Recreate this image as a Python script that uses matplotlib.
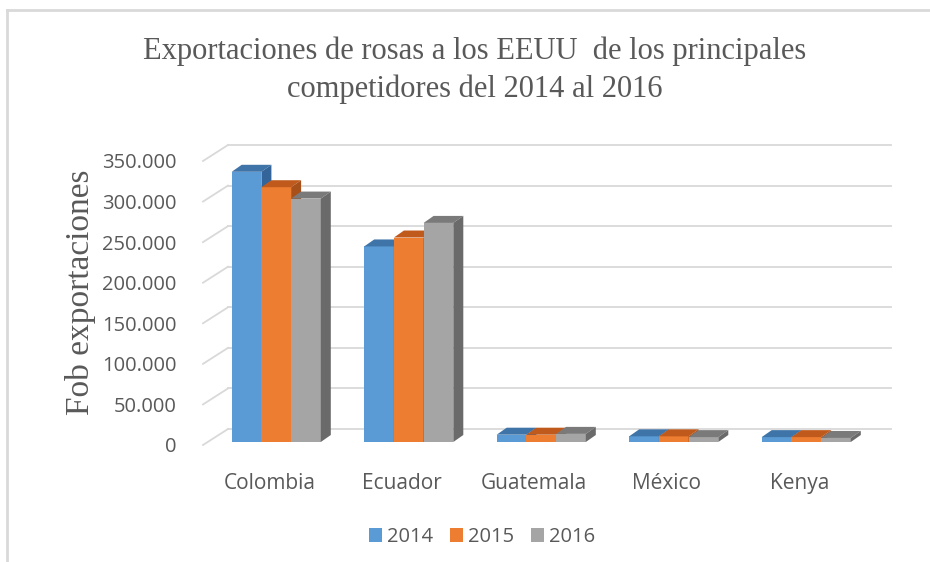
import matplotlib
matplotlib.use("Agg")
import matplotlib.pyplot as plt
from matplotlib.patches import Polygon, Patch
from matplotlib.lines import Line2D
from matplotlib.ticker import FuncFormatter
import numpy as np

# ---------------- data ----------------
categories = ["Colombia", "Ecuador", "Guatemala", "México", "Kenya"]
years = ["2014", "2015", "2016"]
v2014 = [333000, 241000, 9000, 7000, 6000]
v2015 = [314000, 252000, 9000, 7000, 6000]
v2016 = [300000, 270000, 10000, 6000, 5000]
series = [v2014, v2015, v2016]
yticks = [0, 50000, 100000, 150000, 200000, 250000, 300000, 350000]

title = "Exportaciones de rosas a los EEUU  de los principales\ncompetidores del 2014 al 2016"
ylabel = "Fob exportaciones"

# ---------------- style ----------------
front_cols = ["#5b9bd5", "#ed7d31", "#a5a5a5"]
top_cols = ["#3f74a8", "#c05a1c", "#7a7a7a"]
side_cols = ["#34659a", "#a8501a", "#6a6a6a"]
grid_col = "#d9d9d9"
text_col = "#595959"

W, H = 930, 562
fig = plt.figure(figsize=(W / 100, H / 100), dpi=100)
fig.patch.set_facecolor("white")

# front plane of the 3D box in pixels
x0, x1 = 203, 865.5
yb, yt = 445, 161
ax = fig.add_axes([x0 / W, (H - yb) / H, (x1 - x0) / W, (yb - yt) / H])
ax.set_xlim(-0.5, len(categories) - 0.5)
ax.set_ylim(0, 350000)
for s in ax.spines.values():
    s.set_visible(False)
ax.patch.set_alpha(0)

WALL = (25, 16)     # pixel depth of the chart box
BAR_OFF = (7, 3)    # bar front offset from front plane
BAR_D = (10, 7)     # bar depth

inv = ax.transData.inverted()


def proj(x, y, off):
    px, py = ax.transData.transform((x, y))
    return inv.transform((px + off[0], py + off[1]))


# walls gridlines
for v in yticks:
    a = proj(-0.5, v, (0, 0))
    b = proj(-0.5, v, WALL)
    c = proj(len(categories) - 0.5, v, WALL)
    ax.add_line(Line2D([a[0], b[0]], [a[1], b[1]], color=grid_col, lw=1.3,
                       clip_on=False, zorder=1))
    ax.add_line(Line2D([b[0], c[0]], [b[1], c[1]], color=grid_col, lw=1.3,
                       clip_on=False, zorder=1))

# bars
bw_px = 29.7
bw = bw_px / ((x1 - x0) / len(categories))
for i, cat in enumerate(categories):
    for k, vals in enumerate(series):
        v = vals[i]
        left = i + (k - 1.5) * bw
        right = left + bw
        fbl = proj(left, 0, BAR_OFF)
        fbr = proj(right, 0, BAR_OFF)
        ftl = proj(left, v, BAR_OFF)
        ftr = proj(right, v, BAR_OFF)
        d = (BAR_OFF[0] + BAR_D[0], BAR_OFF[1] + BAR_D[1])
        btl = proj(left, v, d)
        btr = proj(right, v, d)
        bbr = proj(right, 0, d)
        z = 3 + i * 3 + k
        ax.add_patch(Polygon([fbl, fbr, ftr, ftl], closed=True, fc=front_cols[k],
                             ec="none", zorder=z, clip_on=False))
        ax.add_patch(Polygon([ftl, ftr, btr, btl], closed=True, fc=top_cols[k],
                             ec="none", zorder=z, clip_on=False))
        ax.add_patch(Polygon([fbr, ftr, btr, bbr], closed=True, fc=side_cols[k],
                             ec="none", zorder=z, clip_on=False))

# ticks
ax.set_yticks(yticks)
ax.yaxis.set_major_formatter(FuncFormatter(lambda v, p: f"{int(v):,}".replace(",", ".")))
ax.set_xticks(range(len(categories)))
ax.set_xticklabels(categories)
ax.tick_params(axis="both", length=0, colors=text_col)
ax.tick_params(axis="y", pad=19)
ax.tick_params(axis="x", pad=20)
for lab in ax.get_yticklabels():
    lab.set_fontfamily("Open Sans")
    lab.set_fontsize(14.5)
    lab.set_color(text_col)
for lab in ax.get_xticklabels():
    lab.set_fontfamily("Open Sans")
    lab.set_fontsize(15)
    lab.set_color(text_col)

# title and axis label
fig.text(475 / W, 1 - 70 / H, title, ha="center", va="center", fontsize=22,
         family="Liberation Serif", color=text_col, linespacing=1.38)
fig.text(81 / W, 1 - 292 / H, ylabel, ha="center", va="center", rotation=90,
         fontsize=24, family="Liberation Serif", color=text_col)

# legend
handles = [Patch(fc=c, ec="none") for c in front_cols]
leg = fig.legend(handles, years, loc="center", bbox_to_anchor=(482 / W, 1 - 537 / H),
                 ncol=3, frameon=False, handlelength=0.65, handleheight=0.65,
                 handletextpad=0.25, columnspacing=0.85,
                 prop={"family": "Open Sans", "size": 14.5})
for t in leg.get_texts():
    t.set_color(text_col)

# outer border (top and left only visible)
fig.add_artist(Line2D([7 / W, 1], [1 - 10 / H, 1 - 10 / H], color="#d9d9d9", lw=2,
                      transform=fig.transFigure))
fig.add_artist(Line2D([7 / W, 7 / W], [0, 1 - 10 / H], color="#d9d9d9", lw=2,
                      transform=fig.transFigure))

fig.savefig("out.png", dpi=100, facecolor="white")
